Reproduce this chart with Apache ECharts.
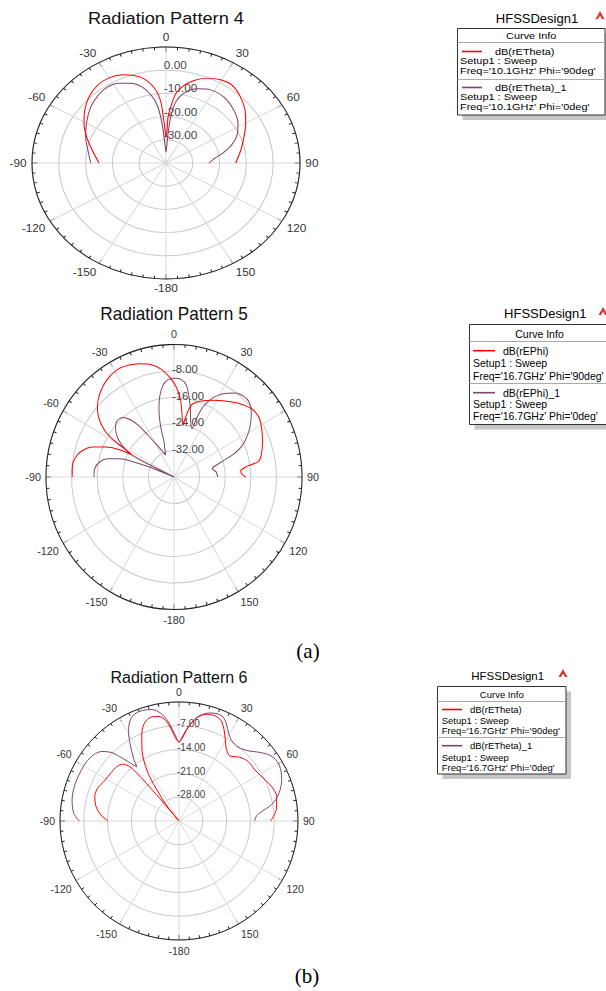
<!DOCTYPE html>
<html><head><meta charset="utf-8">
<script src="https://cdn.jsdelivr.net/npm/echarts@6/dist/echarts.min.js"></script>
<style>
html,body{margin:0;padding:0;background:#fff;}
body{width:606px;height:991px;position:relative;overflow:hidden;}
.chart{position:absolute;}
</style></head>
<body>
<div id="base" class="chart" style="left:0;top:0;width:606px;height:991px;"></div>
<div id="p4" class="chart"></div>
<div id="p5" class="chart"></div>
<div id="p6" class="chart"></div>
<script>
const FONT = "'Liberation Sans', Arial, sans-serif";
const SERIF = "'Liberation Serif', 'Times New Roman', serif";
const angleLabels = ['0','30','60','90','120','150','-180','-150','-120','-90','-60','-30'];

// ---- Radiation Pattern 4 (10.1 GHz, dB(rETheta)) ----
const p4RedTheta = [-90,-78.9,-69.4,-61.1,-53.3,-45.4,-37.5,-30.1,-23.2,-17.6,-12.7,-8.7,-5.7,-3.9,-2.9,-1.8,0,1.5,2.2,4.1,6.9,11.4,16.4,22.9,29.6,36.5,44.4,52.5,60.4,69.0,79.0,90];
const p4RedDb    = [-15.0,-12.0,-8.4,-5.05,-2.15,0.4,2.1,2.4,1.35,-0.45,-2.8,-6.2,-10.05,-14.4,-20.2,-24.5,-28.9,-26.0,-20.2,-15.9,-10.0,-5.9,-2.95,-0.3,1.25,1.6,-0.25,-2.8,-5.8,-8.85,-11.6,-14.0];
const p4PurpleTheta = [-90,-79.5,-69.6,-59.3,-49.4,-41.1,-33.8,-27.0,-21.0,-15.1,-10.6,-7.4,-5.75,-4.6,-3.8,-2.1,0,2.1,3.4,5.0,7.8,12.6,20.1,27.8,37.3,48.2,57.8,64.7,71.6,77.8,84.3,90];
const p4PurpleDb    = [-11.9,-10.4,-8.0,-5.55,-3.0,-1.4,-0.65,-1.4,-3.15,-6.1,-10.4,-15.0,-20.1,-24.5,-28.8,-33.2,-35.3,-33.2,-27.4,-20.2,-13.5,-9.15,-5.95,-4.35,-4.3,-6.0,-8.25,-10.55,-13.9,-17.85,-22.0,-24.0];

// ---- Radiation Pattern 5 (16.7 GHz, dB(rEPhi)) ----
const p5RedTheta = [-90,-84.6,-79.9,-75.0,-70.3,-66.9,-64.1,-63.2,-60.9,-59.4,-57.0,-53.1,-48.6,-42.7,-35.9,-29.2,-23.1,-17.4,-11.8,-6.9,-2.6,1.5,4.8,6.8,8.65,10.2,11.0,12.4,14.6,19.3,27.8,35.6,42.9,49.5,55.6,61.9,69.1,76.5,80,82,85,88,90];
const p5RedDb    = [-8.2,-8.1,-8.5,-10.0,-13.1,-17.0,-21.1,-25.1,-21.8,-17.9,-14.2,-10.7,-8.1,-5.8,-4.0,-3.1,-3.35,-4.15,-5.35,-7.25,-9.8,-12.8,-16.3,-19.7,-22.7,-24.2,-22.6,-19.6,-17.3,-15.8,-13.8,-11.9,-9.8,-8.2,-7.9,-8.95,-10.4,-12.0,-13.3,-17.0,-19.1,-18.6,-17.6];
const p5PurpleTheta = [-90,-84.2,-79.0,-75.0,-72.0,-70.3,-69.0,-67.0,-63.6,-61.6,-57.2,-51.3,-46.5,-41.6,-37.9,-35.1,-32.8,-29.2,-21.5,-16.2,-15.4,-13.1,-10.5,-7.1,-3.65,0.4,4.5,7.9,11.0,13.9,16.9,21.1,21.6,23.2,27.0,31.3,36.8,41.7,46.0,50.9,55.3,60.5,65.9,69.9,72.5,74.5,78.1,83.9,90];
const p5PurpleDb    = [-15.0,-15.1,-16.3,-18.6,-22.2,-25.8,-30.8,-40,-26.9,-23.1,-19.5,-16.6,-15.4,-16.0,-18.3,-21.3,-25.0,-28.7,-32.8,-28.5,-24.4,-19.3,-15.4,-12.1,-10.55,-10.2,-10.5,-12.0,-15.4,-18.7,-22.1,-24.4,-21.1,-17.0,-13.1,-10.55,-8.3,-7.3,-7.4,-8.9,-10.8,-13.4,-16.6,-20.4,-24.0,-26.0,-27.8,-26.7,-26.4];

// ---- Radiation Pattern 6 (16.7 GHz, dB(rETheta)) ----
const p6RedTheta = [-90,-85.6,-80.2,-73.8,-68.0,-61.7,-54.5,-48.8,-44.7,-42.2,-41.4,-40.9,-40.5,-40.3,-39.5,-38.4,-35.6,-33.5,-30.8,-27.0,-22.9,-19.1,-14.9,-10.85,-7.6,-4.8,-2.3,0,2.3,4.6,7.2,10.4,14.4,18.8,22.6,25.7,29.1,33.7,37.9,43.6,49.3,56.0,63.1,69.6,76.0,82.6,87.4,90];
const p6RedDb    = [-14.1,-12.0,-10.25,-9.2,-9.2,-10.1,-10.5,-10.7,-11.5,-13.35,-16.0,-20.3,-26.2,-30.8,-35,-29.0,-24.4,-19.3,-15.2,-10.95,-6.9,-4.3,-3.35,-3.7,-5.15,-7.9,-10.6,-11.8,-10.6,-8.3,-5.97,-3.9,-2.6,-2.3,-2.95,-4.65,-7.1,-9.8,-10.7,-9.1,-8.15,-8.1,-7.2,-5.95,-5.4,-6.05,-7.25,-8.05];
const p6PurpleTheta = [-90,-85.8,-78.9,-71.8,-64.7,-57.8,-52.3,-47.9,-44.7,-42.7,-40.7,-38.0,-35.9,-32.6,-29.4,-25.9,-22.35,-18.1,-13.5,-9.7,-6.3,-3.4,-1.4,0,1.8,4.6,8.0,11.4,15.4,19.55,23.0,26.0,29.4,33.1,38.7,44.6,49.7,54.2,58.8,63.7,68.5,73.2,77.4,80.6,83.2,86.1,90];
const p6PurpleDb    = [-5.7,-3.95,-2.95,-2.6,-2.6,-2.7,-3.2,-4.5,-6.6,-9.2,-11.9,-14.9,-12.2,-8.4,-4.76,-2.1,-0.9,-0.77,-1.3,-2.8,-5.5,-8.8,-10.8,-11.8,-10.6,-8.1,-5.3,-3.3,-2.06,-1.5,-1.8,-3.2,-5.3,-6.7,-7.2,-6.0,-3.8,-2.0,-1.2,-1.55,-2.55,-4.0,-5.8,-7.9,-10.25,-12.1,-12.8];

// ---- Legend texts ----
const legend4Names = ['dB(rETheta)', 'dB(rETheta)_1'];
const legend4Freqs = ["Freq='10.1GHz' Phi='90deg'", "Freq='10.1GHz' Phi='0deg'"];
const legend5Names = ['dB(rEPhi)', 'dB(rEPhi)_1'];
const legend5Freqs = ["Freq='16.7GHz' Phi='90deg'", "Freq='16.7GHz' Phi='0deg'"];
const legend6Names = ['dB(rETheta)', 'dB(rETheta)_1'];
const legend6Freqs = ["Freq='16.7GHz' Phi='90deg'", "Freq='16.7GHz' Phi='0deg'"];
const setupText = 'Setup1 : Sweep';
const designText = 'HFSSDesign1';
const headerText = 'Curve Info';
const captions = ['(a)', '(b)'];

const RED = '#ff0000', PURPLE = '#7f4467';

function polarData(th, db) { return th.map((t, i) => [db[i], (t + 360) % 360]); }

const DW = 340, DH = 380, CX = 170, CY = 190;

function makePolar(id, cfg) {
  const el = document.getElementById(id);
  el.style.width = DW + 'px'; el.style.height = DH + 'px';
  el.style.left = (cfg.pageX - CX) + 'px'; el.style.top = (cfg.pageY - CY) + 'px';
  el.style.transformOrigin = CX + 'px ' + CY + 'px';
  el.style.transform = 'scale(' + cfg.sx + ',' + cfg.sy + ')';
  const chart = echarts.init(el, null, { renderer: 'svg', width: DW, height: DH });
  chart.setOption({
    animation: false,
    graphic: [{
      type: 'text', x: CX, y: CY + (cfg.titleY - cfg.pageY) / cfg.sy,
      style: { text: cfg.title, fontSize: cfg.titleFont, fontFamily: FONT, fill: '#111', align: 'center', verticalAlign: 'middle' }
    }],
    polar: { center: [CX, CY], radius: cfg.R },
    angleAxis: {
      type: 'value', min: 0, max: 360, interval: 30, startAngle: 90, clockwise: true,
      axisLine: { show: true, lineStyle: { color: '#222', width: 1 } },
      axisTick: { show: true, inside: true, length: 5, lineStyle: { color: '#222' } },
      minorTick: { show: true, splitNumber: 6, length: 3, lineStyle: { color: '#222' } },
      splitLine: { show: true, lineStyle: { color: '#dadada', width: 1 } },
      axisLabel: {
        show: true, margin: 5, color: '#333', fontSize: cfg.angleFont, fontFamily: FONT,
        formatter: v => (v >= 360 ? '' : angleLabels[Math.round(v / 30) % 12])
      }
    },
    radiusAxis: {
      type: 'value', min: cfg.min, max: cfg.max, interval: cfg.step,
      axisLine: { show: false }, axisTick: { show: false },
      splitLine: { show: true, lineStyle: { color: '#c8c8c8', width: 1 } },
      axisLabel: {
        show: true, showMinLabel: false, showMaxLabel: false,
        formatter: v => v.toFixed(2), color: '#444', fontSize: cfg.radFont, fontFamily: FONT,
        margin: 2, align: 'left', verticalAlign: 'bottom', lineHeight: cfg.radLift
      }
    },
    series: [
      { type: 'line', coordinateSystem: 'polar', name: cfg.names[1], data: polarData(cfg.purple[0], cfg.purple[1]),
        symbol: 'none', smooth: 0.3, lineStyle: { width: 1, color: PURPLE }, itemStyle: { color: PURPLE } },
      { type: 'line', coordinateSystem: 'polar', name: cfg.names[0], data: polarData(cfg.red[0], cfg.red[1]),
        symbol: 'none', smooth: 0.3, lineStyle: { width: 1, color: RED }, itemStyle: { color: RED } }
    ]
  });
}

makePolar('p4', { pageX: 165.5, pageY: 162.5, R: 125, sx: 1.072, sy: 0.928, min: -40, max: 10, step: 10,
  title: 'Radiation Pattern 4', titleY: 18, titleFont: 17, angleFont: 11, radFont: 11, radLift: 10,
  names: legend4Names, red: [p4RedTheta, p4RedDb], purple: [p4PurpleTheta, p4PurpleDb] });
makePolar('p5', { pageX: 174.3, pageY: 476.7, R: 130, sx: 0.985, sy: 1.019, min: -40, max: 0, step: 8,
  title: 'Radiation Pattern 5', titleY: 314, titleFont: 17.5, angleFont: 11, radFont: 11.5, radLift: 4,
  names: legend5Names, red: [p5RedTheta, p5RedDb], purple: [p5PurpleTheta, p5PurpleDb] });
makePolar('p6', { pageX: 179.3, pageY: 821, R: 119, sx: 1, sy: 1, min: -35, max: 0, step: 7,
  title: 'Radiation Pattern 6', titleY: 677, titleFont: 16, angleFont: 10.5, radFont: 10, radLift: 4.6,
  names: legend6Names, red: [p6RedTheta, p6RedDb], purple: [p6PurpleTheta, p6PurpleDb] });

// ---- Legends & captions on base chart ----
function txt(x, y, s, size, align, family, lh, stretch) {
  const st = { text: s, fontSize: size, fontFamily: family || FONT, fill: '#000', align: align || 'left', verticalAlign: 'middle' };
  if (lh) st.lineHeight = lh;
  const el = { type: 'text', x: x, y: y, z: 5, style: st };
  if (stretch) el.scaleX = stretch;
  return el;
}
function hline(x0, x1, y, color, w) {
  return { type: 'line', z: 4, shape: { x1: x0, y1: y, x2: x1, y2: y }, style: { stroke: color, lineWidth: w || 1 } };
}
function logo(x, y) {
  return [
    { type: 'polygon', z: 5, shape: { points: [[x - 4.5, y + 4], [x, y - 4], [x + 4.5, y + 4]] }, style: { fill: '#e03030' } },
    { type: 'polygon', z: 6, shape: { points: [[x - 2, y + 4], [x, y + 0.5], [x + 2, y + 4]] }, style: { fill: '#fff' } }
  ];
}
function legend(L, names, freqs) {
  const g = [];
  g.push({ type: 'rect', z: 1, shape: { x: L.bx + 5, y: L.by + 5, width: L.bw, height: L.bh }, style: { fill: '#c6c6c6' } });
  g.push({ type: 'rect', z: 2, shape: { x: L.bx, y: L.by, width: L.bw, height: L.bh }, style: { fill: '#fff', stroke: '#333', lineWidth: 1 } });
  g.push(txt(L.dx, L.dy, designText, L.dFont, 'center'));
  g.push(...logo(L.lx, L.ly));
  g.push(txt(L.bx + L.bw / 2, L.hy, headerText, L.font, 'center', FONT, L.lh, L.st));
  g.push(hline(L.bx, L.bx + L.bw, L.s1, '#aaa'));
  g.push(hline(L.bx, L.bx + L.bw, L.s2, '#aaa'));
  const colors = [RED, PURPLE];
  for (let i = 0; i < 2; i++) {
    const r = L.rows[i];
    g.push(hline(L.lineX0, L.lineX1, r[0], colors[i], 1.6));
    g.push(txt(L.nameX, r[0], names[i], L.font, 'left', FONT, L.lh, L.st));
    g.push(txt(L.textX, r[1], setupText, L.font, 'left', FONT, L.lh, L.st));
    g.push(txt(L.textX, r[2], freqs[i], L.font, 'left', FONT, L.lh, L.st));
  }
  return g;
}

const base = echarts.init(document.getElementById('base'), null, { renderer: 'svg', width: 606, height: 991 });
base.setOption({
  animation: false,
  graphic: [].concat(
    legend({ bx: 457.5, by: 28.5, bw: 147.5, bh: 86.5, dx: 537, dy: 18.5, dFont: 13, lx: 600, ly: 15,
      hy: 35.5, s1: 42.5, s2: 79.5, lineX0: 462, lineX1: 482, nameX: 495, textX: 460, font: 9.5, lh: 9, st: 1.15,
      rows: [[51.5, 61, 70.5], [87.5, 97, 106.5]] }, legend4Names, legend4Freqs),
    legend({ bx: 469.5, by: 324.5, bw: 140, bh: 100, dx: 545.3, dy: 313.3, dFont: 13, lx: 603, ly: 311,
      hy: 334, s1: 341.5, s2: 383.5, lineX0: 473, lineX1: 495, nameX: 503, textX: 473, font: 10.5, lh: 11,
      rows: [[350.7, 363.3, 376], [392.7, 404.3, 415.5]] }, legend5Names, legend5Freqs),
    legend({ bx: 437.5, by: 686.5, bw: 128.5, bh: 87.5, dx: 507.7, dy: 675.7, dFont: 11.5, lx: 563, ly: 673,
      hy: 694.3, s1: 701.5, s2: 737.5, lineX0: 442, lineX1: 462, nameX: 470, textX: 441.7, font: 9.5, lh: 9.5,
      rows: [[709.5, 720.7, 730.7], [745.7, 757.3, 767.3]] }, legend6Names, legend6Freqs),
    [txt(308, 651, captions[0], 21, 'center', SERIF), txt(307, 976, captions[1], 21, 'center', SERIF)]
  )
});
</script>
</body></html>
